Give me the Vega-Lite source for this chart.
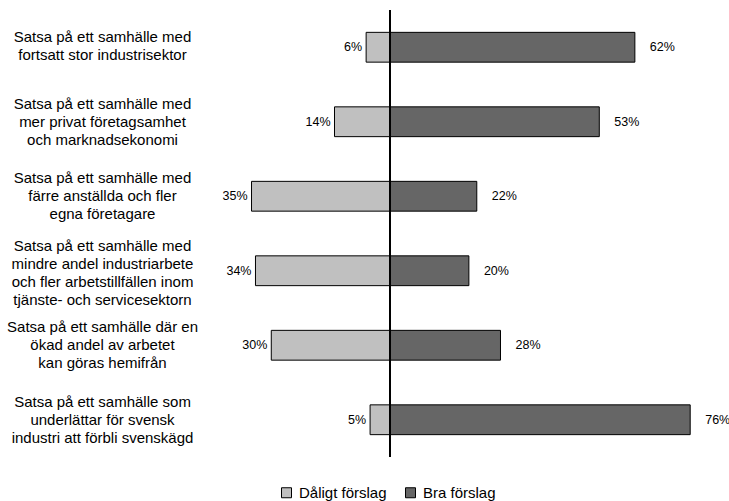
{
  "$schema": "https://vega.github.io/schema/vega-lite/v6.json",
  "width": 494,
  "height": 447,
  "autosize": {"type": "none"},
  "padding": {"left": 212, "top": 10, "right": 23, "bottom": 44},
  "config": {"view": {"stroke": null}, "font": "Liberation Sans"},
  "data": {
    "values": [
      {"q": "Satsa på ett samhälle med|fortsatt stor industrisektor", "cat": "Dåligt förslag", "v": -6, "lbl": "6%"},
      {"q": "Satsa på ett samhälle med|fortsatt stor industrisektor", "cat": "Bra förslag", "v": 62, "lbl": "62%"},
      {"q": "Satsa på ett samhälle med|mer privat företagsamhet|och marknadsekonomi", "cat": "Dåligt förslag", "v": -14, "lbl": "14%"},
      {"q": "Satsa på ett samhälle med|mer privat företagsamhet|och marknadsekonomi", "cat": "Bra förslag", "v": 53, "lbl": "53%"},
      {"q": "Satsa på ett samhälle med|färre anställda och fler|egna företagare", "cat": "Dåligt förslag", "v": -35, "lbl": "35%"},
      {"q": "Satsa på ett samhälle med|färre anställda och fler|egna företagare", "cat": "Bra förslag", "v": 22, "lbl": "22%"},
      {"q": "Satsa på ett samhälle med|mindre andel industriarbete|och fler arbetstillfällen inom|tjänste- och servicesektorn", "cat": "Dåligt förslag", "v": -34, "lbl": "34%"},
      {"q": "Satsa på ett samhälle med|mindre andel industriarbete|och fler arbetstillfällen inom|tjänste- och servicesektorn", "cat": "Bra förslag", "v": 20, "lbl": "20%"},
      {"q": "Satsa på ett samhälle där en|ökad andel av arbetet|kan göras hemifrån", "cat": "Dåligt förslag", "v": -30, "lbl": "30%"},
      {"q": "Satsa på ett samhälle där en|ökad andel av arbetet|kan göras hemifrån", "cat": "Bra förslag", "v": 28, "lbl": "28%"},
      {"q": "Satsa på ett samhälle som|underlättar för svensk|industri att förbli svenskägd", "cat": "Dåligt förslag", "v": -5, "lbl": "5%"},
      {"q": "Satsa på ett samhälle som|underlättar för svensk|industri att förbli svenskägd", "cat": "Bra förslag", "v": 76, "lbl": "76%"}
    ]
  },
  "encoding": {
    "y": {
      "field": "q", "type": "nominal", "sort": null,
      "scale": {"paddingInner": 0.6, "paddingOuter": 0.3},
      "axis": {
        "title": null, "domain": false, "ticks": false, "tickSize": 0,
        "labelExpr": "split(datum.label, '|')",
        "labelAlign": "center", "labelBaseline": "middle",
        "labelPadding": 110, "labelFontSize": 15, "labelLineHeight": 18,
        "labelColor": "black", "labelLimit": 0,
        "labelOffset": {
          "condition": [
            {"test": "length(split(datum.value, '|')) == 2", "value": -10},
            {"test": "length(split(datum.value, '|')) == 4", "value": -25}
          ],
          "value": -18
        }
      }
    },
    "x": {"field": "v", "type": "quantitative", "scale": {"domain": [-45, 80]}, "axis": null}
  },
  "layer": [
    {
      "mark": {"type": "bar", "stroke": "black", "strokeWidth": 1},
      "encoding": {
        "color": {
          "field": "cat", "type": "nominal",
          "scale": {"domain": ["Dåligt förslag", "Bra förslag"], "range": ["#c0c0c0", "#666666"]},
          "legend": {
            "title": null, "orient": "none", "legendX": 67, "legendY": 475,
            "direction": "horizontal", "symbolType": "square", "symbolSize": 100,
            "symbolStrokeColor": "black", "symbolStrokeWidth": 1, "symbolOpacity": 1,
            "labelFontSize": 15, "labelColor": "black", "labelOffset": 5, "columnPadding": 16
          }
        }
      }
    },
    {
      "transform": [{"filter": "datum.cat === 'Dåligt förslag'"}],
      "mark": {"type": "text", "align": "right", "baseline": "middle", "dx": -4, "fontSize": 12.5, "color": "black"},
      "encoding": {"text": {"field": "lbl"}}
    },
    {
      "transform": [{"filter": "datum.cat === 'Bra förslag'"}],
      "mark": {"type": "text", "align": "left", "baseline": "middle", "dx": 15, "fontSize": 12.5, "color": "black"},
      "encoding": {"text": {"field": "lbl"}}
    },
    {
      "mark": {"type": "rule", "color": "black", "strokeWidth": 1},
      "encoding": {"x": {"datum": 0}, "y": null}
    }
  ]
}
